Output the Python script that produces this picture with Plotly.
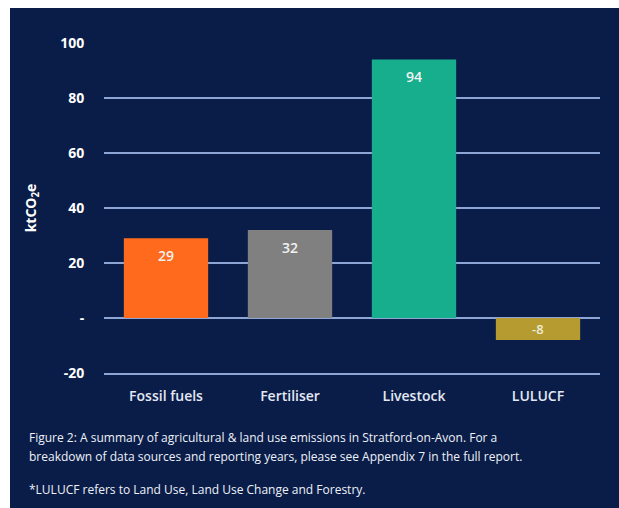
import plotly.graph_objects as go

categories = ["Fossil fuels", "Fertiliser", "Livestock", "LULUCF"]
values = [29, 32, 94, -8]
bar_colors = ["#ff6a1c", "#808080", "#16ae8c", "#b59b30"]
tick_vals = [-20, 0, 20, 40, 60, 80, 100]
tick_text = ["-20", "-", "20", "40", "60", "80", "100"]

NAVY = "#0a1d48"
GRID = "#8ea6d6"
FONT = "Open Sans"

W, H = 619, 508
ML, MR, MT, MB = 104, 19, 43, 135
PW, PH = W - ML - MR, H - MT - MB

def px_x(px):
    return (px - ML) / PW

def px_y(py):
    return (H - MB - py) / PH

fig = go.Figure()
fig.add_trace(go.Bar(
    x=categories, y=values,
    marker=dict(color=bar_colors, line=dict(width=0)),
    hoverinfo="skip",
))

# value labels inside bars
for c, v in zip(categories, values):
    if v >= 0:
        fig.add_annotation(x=c, y=v, yref="y", text=str(v), showarrow=False,
                           yanchor="middle", yshift=-17,
                           font=dict(family=FONT, size=14, color="#f2f2f2", weight=600))
    else:
        fig.add_annotation(x=c, y=v / 2, yref="y", text=str(v), showarrow=False,
                           yanchor="middle",
                           font=dict(family=FONT, size=13, color="#ecebd8", weight=600))

# navy panel with white border strip
fig.add_shape(type="rect", xref="paper", yref="paper", layer="below",
              x0=px_x(10), x1=px_x(W + 5), y0=px_y(H + 5), y1=px_y(8),
              fillcolor=NAVY, line=dict(width=0))

caption_font = dict(family=FONT, size=12, color="#eef1f8")
fig.add_annotation(xref="paper", yref="paper", x=px_x(27), y=px_y(437),
                   xanchor="left", yanchor="middle", showarrow=False, align="left",
                   text="Figure 2: A summary of agricultural &amp; land use emissions in Stratford-on-Avon. For a",
                   font=caption_font)
fig.add_annotation(xref="paper", yref="paper", x=px_x(27), y=px_y(456),
                   xanchor="left", yanchor="middle", showarrow=False, align="left",
                   text="breakdown of data sources and reporting years, please see Appendix 7 in the full report.",
                   font=caption_font)
fig.add_annotation(xref="paper", yref="paper", x=px_x(27), y=px_y(489),
                   xanchor="left", yanchor="middle", showarrow=False, align="left",
                   text="*LULUCF refers to Land Use, Land Use Change and Forestry.",
                   font=caption_font)

fig.update_layout(
    width=W, height=H,
    margin=dict(l=ML, r=MR, t=MT, b=MB, pad=0),
    paper_bgcolor="white",
    plot_bgcolor=NAVY,
    showlegend=False,
    bargap=0.32,
    font=dict(family=FONT, color="white"),
    xaxis=dict(
        showgrid=False, zeroline=False,
        showline=True, linecolor=GRID, linewidth=1.5,
        ticks="outside", ticklen=9, tickcolor="rgba(0,0,0,0)",
        tickfont=dict(family=FONT, size=14, color="#e3e8f4", weight=600),
    ),
    yaxis=dict(
        range=[-20, 100],
        tickvals=tick_vals, ticktext=tick_text,
        showgrid=True, gridcolor=GRID, gridwidth=1.5,
        zeroline=True, zerolinecolor=GRID, zerolinewidth=1.5,
        showline=False,
        ticks="outside", ticklen=16, tickcolor="rgba(0,0,0,0)",
        tickfont=dict(family=FONT, size=14, color="white", weight="bold"),
        title=dict(text="ktCO<sub>2</sub>e", standoff=20,
                   font=dict(family=FONT, size=14, color="white", weight="bold")),
    ),
)

fig.write_html("out.html")
